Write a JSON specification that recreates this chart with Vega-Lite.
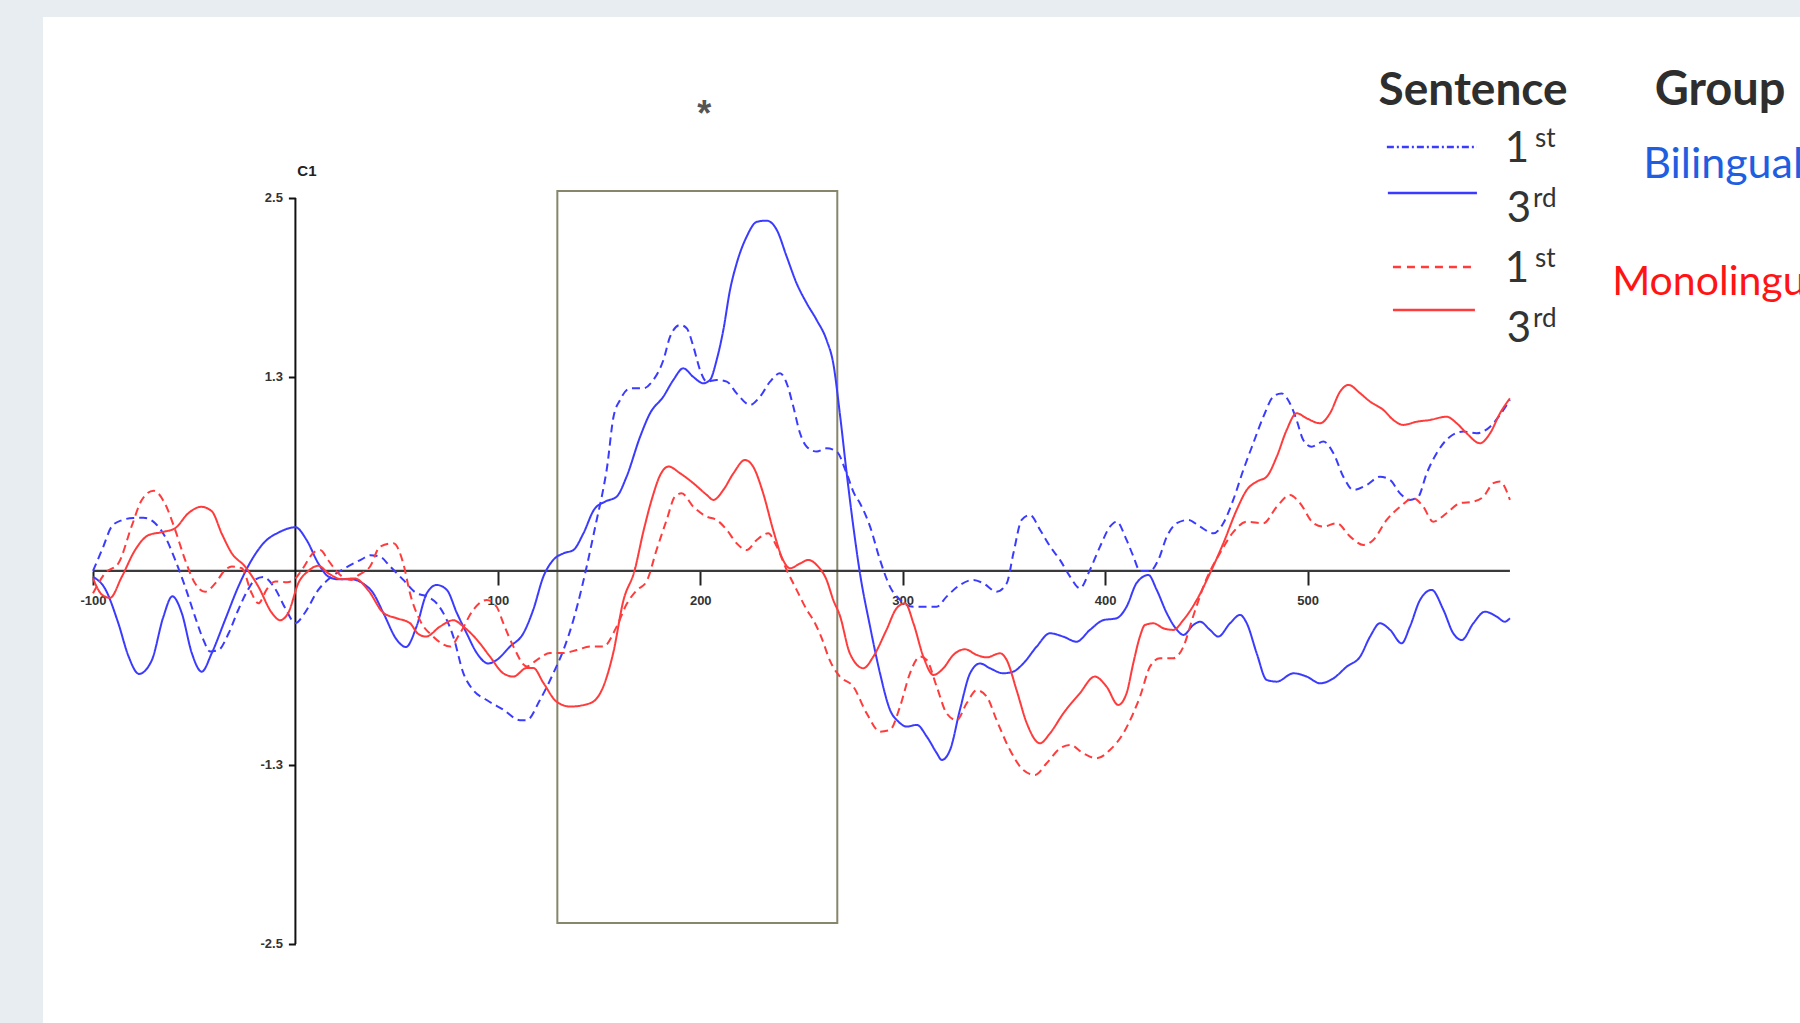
{
"$schema": "https://vega.github.io/schema/vega-lite/v6.json",
"width": 1757, "height": 1006,
"autosize": {"type": "none"},
"padding": {"left": 43, "top": 17, "right": 0, "bottom": 0},
"background": "#e7edf0",
"config": {"view": {"fill": "white", "stroke": null}, "font": "Liberation Sans"},
"datasets": {"erp": [
{"group":"Bilingual","sentence":"3rd","t":-100,"v":-0.04},{"group":"Bilingual","sentence":"3rd","t":-94,"v":-0.12},{"group":"Bilingual","sentence":"3rd","t":-87.5,"v":-0.35},{"group":"Bilingual","sentence":"3rd","t":-82.5,"v":-0.57},{"group":"Bilingual","sentence":"3rd","t":-77.3,"v":-0.69},{"group":"Bilingual","sentence":"3rd","t":-71,"v":-0.6},{"group":"Bilingual","sentence":"3rd","t":-65.3,"v":-0.31},{"group":"Bilingual","sentence":"3rd","t":-60.8,"v":-0.17},{"group":"Bilingual","sentence":"3rd","t":-56.2,"v":-0.28},{"group":"Bilingual","sentence":"3rd","t":-51.2,"v":-0.55},{"group":"Bilingual","sentence":"3rd","t":-46.3,"v":-0.675},{"group":"Bilingual","sentence":"3rd","t":-41.3,"v":-0.55},{"group":"Bilingual","sentence":"3rd","t":-34.8,"v":-0.33},{"group":"Bilingual","sentence":"3rd","t":-28.2,"v":-0.105},{"group":"Bilingual","sentence":"3rd","t":-21.6,"v":0.074},{"group":"Bilingual","sentence":"3rd","t":-15,"v":0.197},{"group":"Bilingual","sentence":"3rd","t":-8.4,"v":0.257},{"group":"Bilingual","sentence":"3rd","t":0,"v":0.293},{"group":"Bilingual","sentence":"3rd","t":5.5,"v":0.208},{"group":"Bilingual","sentence":"3rd","t":11.3,"v":0.051},{"group":"Bilingual","sentence":"3rd","t":16.3,"v":-0.038},{"group":"Bilingual","sentence":"3rd","t":21.2,"v":-0.056},{"group":"Bilingual","sentence":"3rd","t":27.8,"v":-0.056},{"group":"Bilingual","sentence":"3rd","t":34,"v":-0.09},{"group":"Bilingual","sentence":"3rd","t":38,"v":-0.14},{"group":"Bilingual","sentence":"3rd","t":43.4,"v":-0.28},{"group":"Bilingual","sentence":"3rd","t":50,"v":-0.46},{"group":"Bilingual","sentence":"3rd","t":54.6,"v":-0.51},{"group":"Bilingual","sentence":"3rd","t":59.9,"v":-0.37},{"group":"Bilingual","sentence":"3rd","t":64.9,"v":-0.15},{"group":"Bilingual","sentence":"3rd","t":69.8,"v":-0.094},{"group":"Bilingual","sentence":"3rd","t":74.8,"v":-0.127},{"group":"Bilingual","sentence":"3rd","t":79.7,"v":-0.28},{"group":"Bilingual","sentence":"3rd","t":84.6,"v":-0.418},{"group":"Bilingual","sentence":"3rd","t":89.6,"v":-0.55},{"group":"Bilingual","sentence":"3rd","t":95.3,"v":-0.62},{"group":"Bilingual","sentence":"3rd","t":99.4,"v":-0.597},{"group":"Bilingual","sentence":"3rd","t":106,"v":-0.507},{"group":"Bilingual","sentence":"3rd","t":112.6,"v":-0.418},{"group":"Bilingual","sentence":"3rd","t":117.5,"v":-0.26},{"group":"Bilingual","sentence":"3rd","t":122.5,"v":-0.038},{"group":"Bilingual","sentence":"3rd","t":127.4,"v":0.074},{"group":"Bilingual","sentence":"3rd","t":132.4,"v":0.118},{"group":"Bilingual","sentence":"3rd","t":137.3,"v":0.14},{"group":"Bilingual","sentence":"3rd","t":142.2,"v":0.25},{"group":"Bilingual","sentence":"3rd","t":147.5,"v":0.41},{"group":"Bilingual","sentence":"3rd","t":153,"v":0.465},{"group":"Bilingual","sentence":"3rd","t":158.7,"v":0.498},{"group":"Bilingual","sentence":"3rd","t":163.6,"v":0.632},{"group":"Bilingual","sentence":"3rd","t":170.3,"v":0.9},{"group":"Bilingual","sentence":"3rd","t":175.2,"v":1.057},{"group":"Bilingual","sentence":"3rd","t":181.8,"v":1.169},{"group":"Bilingual","sentence":"3rd","t":186.7,"v":1.28},{"group":"Bilingual","sentence":"3rd","t":191.6,"v":1.358},{"group":"Bilingual","sentence":"3rd","t":196.6,"v":1.3},{"group":"Bilingual","sentence":"3rd","t":201.5,"v":1.258},{"group":"Bilingual","sentence":"3rd","t":204.8,"v":1.28},{"group":"Bilingual","sentence":"3rd","t":208.1,"v":1.414},{"group":"Bilingual","sentence":"3rd","t":211.4,"v":1.615},{"group":"Bilingual","sentence":"3rd","t":214.7,"v":1.883},{"group":"Bilingual","sentence":"3rd","t":218,"v":2.062},{"group":"Bilingual","sentence":"3rd","t":222.9,"v":2.24},{"group":"Bilingual","sentence":"3rd","t":227.9,"v":2.34},{"group":"Bilingual","sentence":"3rd","t":232.8,"v":2.348},{"group":"Bilingual","sentence":"3rd","t":237.8,"v":2.286},{"group":"Bilingual","sentence":"3rd","t":242.7,"v":2.107},{"group":"Bilingual","sentence":"3rd","t":247.6,"v":1.928},{"group":"Bilingual","sentence":"3rd","t":252.6,"v":1.794},{"group":"Bilingual","sentence":"3rd","t":257.5,"v":1.682},{"group":"Bilingual","sentence":"3rd","t":262.4,"v":1.548},{"group":"Bilingual","sentence":"3rd","t":265.7,"v":1.392},{"group":"Bilingual","sentence":"3rd","t":269,"v":1.05},{"group":"Bilingual","sentence":"3rd","t":272.3,"v":0.66},{"group":"Bilingual","sentence":"3rd","t":275.6,"v":0.3},{"group":"Bilingual","sentence":"3rd","t":278.9,"v":-0.016},{"group":"Bilingual","sentence":"3rd","t":283.9,"v":-0.373},{"group":"Bilingual","sentence":"3rd","t":288.8,"v":-0.686},{"group":"Bilingual","sentence":"3rd","t":293.7,"v":-0.93},{"group":"Bilingual","sentence":"3rd","t":297.9,"v":-1.01},{"group":"Bilingual","sentence":"3rd","t":302,"v":-1.043},{"group":"Bilingual","sentence":"3rd","t":307,"v":-1.032},{"group":"Bilingual","sentence":"3rd","t":311.9,"v":-1.11},{"group":"Bilingual","sentence":"3rd","t":316.8,"v":-1.22},{"group":"Bilingual","sentence":"3rd","t":319.3,"v":-1.267},{"group":"Bilingual","sentence":"3rd","t":323.4,"v":-1.2},{"group":"Bilingual","sentence":"3rd","t":328.3,"v":-0.93},{"group":"Bilingual","sentence":"3rd","t":333.3,"v":-0.686},{"group":"Bilingual","sentence":"3rd","t":338.2,"v":-0.62},{"group":"Bilingual","sentence":"3rd","t":343.1,"v":-0.652},{"group":"Bilingual","sentence":"3rd","t":349.7,"v":-0.686},{"group":"Bilingual","sentence":"3rd","t":354.6,"v":-0.675},{"group":"Bilingual","sentence":"3rd","t":359.6,"v":-0.62},{"group":"Bilingual","sentence":"3rd","t":366.2,"v":-0.507},{"group":"Bilingual","sentence":"3rd","t":372.7,"v":-0.418},{"group":"Bilingual","sentence":"3rd","t":379.3,"v":-0.44},{"group":"Bilingual","sentence":"3rd","t":385.9,"v":-0.474},{"group":"Bilingual","sentence":"3rd","t":392.5,"v":-0.395},{"group":"Bilingual","sentence":"3rd","t":399.1,"v":-0.33},{"group":"Bilingual","sentence":"3rd","t":405.7,"v":-0.317},{"group":"Bilingual","sentence":"3rd","t":410.6,"v":-0.24},{"group":"Bilingual","sentence":"3rd","t":415.6,"v":-0.08},{"group":"Bilingual","sentence":"3rd","t":421.4,"v":-0.027},{"group":"Bilingual","sentence":"3rd","t":425.5,"v":-0.127},{"group":"Bilingual","sentence":"3rd","t":430.5,"v":-0.284},{"group":"Bilingual","sentence":"3rd","t":435.5,"v":-0.395},{"group":"Bilingual","sentence":"3rd","t":438.7,"v":-0.429},{"group":"Bilingual","sentence":"3rd","t":443.6,"v":-0.362},{"group":"Bilingual","sentence":"3rd","t":446.9,"v":-0.34},{"group":"Bilingual","sentence":"3rd","t":451.8,"v":-0.395},{"group":"Bilingual","sentence":"3rd","t":455.9,"v":-0.44},{"group":"Bilingual","sentence":"3rd","t":461.7,"v":-0.351},{"group":"Bilingual","sentence":"3rd","t":466.7,"v":-0.295},{"group":"Bilingual","sentence":"3rd","t":470,"v":-0.351},{"group":"Bilingual","sentence":"3rd","t":474.9,"v":-0.552},{"group":"Bilingual","sentence":"3rd","t":479.8,"v":-0.73},{"group":"Bilingual","sentence":"3rd","t":484.8,"v":-0.742},{"group":"Bilingual","sentence":"3rd","t":493,"v":-0.686},{"group":"Bilingual","sentence":"3rd","t":499.6,"v":-0.708},{"group":"Bilingual","sentence":"3rd","t":506.2,"v":-0.753},{"group":"Bilingual","sentence":"3rd","t":512.8,"v":-0.72},{"group":"Bilingual","sentence":"3rd","t":519.4,"v":-0.641},{"group":"Bilingual","sentence":"3rd","t":526,"v":-0.574},{"group":"Bilingual","sentence":"3rd","t":530.9,"v":-0.44},{"group":"Bilingual","sentence":"3rd","t":535.8,"v":-0.351},{"group":"Bilingual","sentence":"3rd","t":540.8,"v":-0.395},{"group":"Bilingual","sentence":"3rd","t":546.5,"v":-0.485},{"group":"Bilingual","sentence":"3rd","t":550.6,"v":-0.373},{"group":"Bilingual","sentence":"3rd","t":555.6,"v":-0.194},{"group":"Bilingual","sentence":"3rd","t":561.3,"v":-0.127},{"group":"Bilingual","sentence":"3rd","t":567.1,"v":-0.26},{"group":"Bilingual","sentence":"3rd","t":572,"v":-0.418},{"group":"Bilingual","sentence":"3rd","t":576.2,"v":-0.463},{"group":"Bilingual","sentence":"3rd","t":581.9,"v":-0.351},{"group":"Bilingual","sentence":"3rd","t":587.7,"v":-0.273},{"group":"Bilingual","sentence":"3rd","t":593.4,"v":-0.306},{"group":"Bilingual","sentence":"3rd","t":597.5,"v":-0.34},{"group":"Bilingual","sentence":"3rd","t":600,"v":-0.317},
{"group":"Bilingual","sentence":"1st","t":-100,"v":0},{"group":"Bilingual","sentence":"1st","t":-95,"v":0.16},{"group":"Bilingual","sentence":"1st","t":-90.8,"v":0.297},{"group":"Bilingual","sentence":"1st","t":-85.8,"v":0.34},{"group":"Bilingual","sentence":"1st","t":-80,"v":0.355},{"group":"Bilingual","sentence":"1st","t":-75.1,"v":0.357},{"group":"Bilingual","sentence":"1st","t":-69.3,"v":0.32},{"group":"Bilingual","sentence":"1st","t":-64.4,"v":0.23},{"group":"Bilingual","sentence":"1st","t":-59.4,"v":0.074},{"group":"Bilingual","sentence":"1st","t":-54.5,"v":-0.105},{"group":"Bilingual","sentence":"1st","t":-49.6,"v":-0.306},{"group":"Bilingual","sentence":"1st","t":-45.5,"v":-0.46},{"group":"Bilingual","sentence":"1st","t":-42.2,"v":-0.54},{"group":"Bilingual","sentence":"1st","t":-38,"v":-0.53},{"group":"Bilingual","sentence":"1st","t":-33,"v":-0.418},{"group":"Bilingual","sentence":"1st","t":-28.2,"v":-0.26},{"group":"Bilingual","sentence":"1st","t":-24,"v":-0.14},{"group":"Bilingual","sentence":"1st","t":-20,"v":-0.06},{"group":"Bilingual","sentence":"1st","t":-16,"v":-0.04},{"group":"Bilingual","sentence":"1st","t":-10,"v":-0.12},{"group":"Bilingual","sentence":"1st","t":-5,"v":-0.25},{"group":"Bilingual","sentence":"1st","t":0,"v":-0.35},{"group":"Bilingual","sentence":"1st","t":4.7,"v":-0.28},{"group":"Bilingual","sentence":"1st","t":11.3,"v":-0.127},{"group":"Bilingual","sentence":"1st","t":17.9,"v":-0.038},{"group":"Bilingual","sentence":"1st","t":26,"v":0.03},{"group":"Bilingual","sentence":"1st","t":32.7,"v":0.078},{"group":"Bilingual","sentence":"1st","t":37,"v":0.105},{"group":"Bilingual","sentence":"1st","t":41.8,"v":0.096},{"group":"Bilingual","sentence":"1st","t":46.8,"v":0.03},{"group":"Bilingual","sentence":"1st","t":53.3,"v":-0.06},{"group":"Bilingual","sentence":"1st","t":59.9,"v":-0.15},{"group":"Bilingual","sentence":"1st","t":64.9,"v":-0.17},{"group":"Bilingual","sentence":"1st","t":70,"v":-0.22},{"group":"Bilingual","sentence":"1st","t":74.5,"v":-0.32},{"group":"Bilingual","sentence":"1st","t":78,"v":-0.44},{"group":"Bilingual","sentence":"1st","t":83,"v":-0.686},{"group":"Bilingual","sentence":"1st","t":87.9,"v":-0.8},{"group":"Bilingual","sentence":"1st","t":94.5,"v":-0.865},{"group":"Bilingual","sentence":"1st","t":102.7,"v":-0.93},{"group":"Bilingual","sentence":"1st","t":110.9,"v":-1.0},{"group":"Bilingual","sentence":"1st","t":114.3,"v":-1.0},{"group":"Bilingual","sentence":"1st","t":120.8,"v":-0.865},{"group":"Bilingual","sentence":"1st","t":127.4,"v":-0.686},{"group":"Bilingual","sentence":"1st","t":132.4,"v":-0.53},{"group":"Bilingual","sentence":"1st","t":137.3,"v":-0.33},{"group":"Bilingual","sentence":"1st","t":139.5,"v":-0.22},{"group":"Bilingual","sentence":"1st","t":143.9,"v":0.03},{"group":"Bilingual","sentence":"1st","t":148.8,"v":0.34},{"group":"Bilingual","sentence":"1st","t":152.1,"v":0.55},{"group":"Bilingual","sentence":"1st","t":153.8,"v":0.68},{"group":"Bilingual","sentence":"1st","t":157.1,"v":1.03},{"group":"Bilingual","sentence":"1st","t":160.4,"v":1.146},{"group":"Bilingual","sentence":"1st","t":165.3,"v":1.224},{"group":"Bilingual","sentence":"1st","t":171.9,"v":1.224},{"group":"Bilingual","sentence":"1st","t":176.8,"v":1.28},{"group":"Bilingual","sentence":"1st","t":181.8,"v":1.414},{"group":"Bilingual","sentence":"1st","t":185.1,"v":1.57},{"group":"Bilingual","sentence":"1st","t":190,"v":1.649},{"group":"Bilingual","sentence":"1st","t":193.3,"v":1.627},{"group":"Bilingual","sentence":"1st","t":196.6,"v":1.504},{"group":"Bilingual","sentence":"1st","t":199.9,"v":1.347},{"group":"Bilingual","sentence":"1st","t":203.2,"v":1.269},{"group":"Bilingual","sentence":"1st","t":208.1,"v":1.28},{"group":"Bilingual","sentence":"1st","t":213.1,"v":1.269},{"group":"Bilingual","sentence":"1st","t":218,"v":1.19},{"group":"Bilingual","sentence":"1st","t":224.6,"v":1.113},{"group":"Bilingual","sentence":"1st","t":229.5,"v":1.168},{"group":"Bilingual","sentence":"1st","t":234.5,"v":1.269},{"group":"Bilingual","sentence":"1st","t":239.4,"v":1.325},{"group":"Bilingual","sentence":"1st","t":242.7,"v":1.258},{"group":"Bilingual","sentence":"1st","t":246,"v":1.1},{"group":"Bilingual","sentence":"1st","t":249.3,"v":0.923},{"group":"Bilingual","sentence":"1st","t":252.6,"v":0.833},{"group":"Bilingual","sentence":"1st","t":257.5,"v":0.8},{"group":"Bilingual","sentence":"1st","t":262.4,"v":0.822},{"group":"Bilingual","sentence":"1st","t":267.4,"v":0.8},{"group":"Bilingual","sentence":"1st","t":272.3,"v":0.655},{"group":"Bilingual","sentence":"1st","t":276,"v":0.52},{"group":"Bilingual","sentence":"1st","t":278.9,"v":0.454},{"group":"Bilingual","sentence":"1st","t":283.9,"v":0.297},{"group":"Bilingual","sentence":"1st","t":288.8,"v":0.074},{"group":"Bilingual","sentence":"1st","t":293.7,"v":-0.105},{"group":"Bilingual","sentence":"1st","t":298.7,"v":-0.194},{"group":"Bilingual","sentence":"1st","t":305.3,"v":-0.24},{"group":"Bilingual","sentence":"1st","t":311.9,"v":-0.24},{"group":"Bilingual","sentence":"1st","t":316.8,"v":-0.24},{"group":"Bilingual","sentence":"1st","t":321.7,"v":-0.172},{"group":"Bilingual","sentence":"1st","t":328.3,"v":-0.094},{"group":"Bilingual","sentence":"1st","t":334.9,"v":-0.06},{"group":"Bilingual","sentence":"1st","t":339.9,"v":-0.083},{"group":"Bilingual","sentence":"1st","t":346.4,"v":-0.139},{"group":"Bilingual","sentence":"1st","t":351.4,"v":-0.083},{"group":"Bilingual","sentence":"1st","t":354.7,"v":0.118},{"group":"Bilingual","sentence":"1st","t":358.8,"v":0.342},{"group":"Bilingual","sentence":"1st","t":362.9,"v":0.375},{"group":"Bilingual","sentence":"1st","t":367.9,"v":0.275},{"group":"Bilingual","sentence":"1st","t":372.9,"v":0.163},{"group":"Bilingual","sentence":"1st","t":377.7,"v":0.074},{"group":"Bilingual","sentence":"1st","t":382.7,"v":-0.038},{"group":"Bilingual","sentence":"1st","t":387.6,"v":-0.116},{"group":"Bilingual","sentence":"1st","t":392.5,"v":0.007},{"group":"Bilingual","sentence":"1st","t":397.5,"v":0.163},{"group":"Bilingual","sentence":"1st","t":402.4,"v":0.297},{"group":"Bilingual","sentence":"1st","t":405.7,"v":0.33},{"group":"Bilingual","sentence":"1st","t":410.6,"v":0.208},{"group":"Bilingual","sentence":"1st","t":413.9,"v":0.1},{"group":"Bilingual","sentence":"1st","t":417.3,"v":0.0},{"group":"Bilingual","sentence":"1st","t":422.2,"v":0.0},{"group":"Bilingual","sentence":"1st","t":426.3,"v":0.074},{"group":"Bilingual","sentence":"1st","t":430.5,"v":0.23},{"group":"Bilingual","sentence":"1st","t":435.4,"v":0.32},{"group":"Bilingual","sentence":"1st","t":441.1,"v":0.342},{"group":"Bilingual","sentence":"1st","t":446.9,"v":0.297},{"group":"Bilingual","sentence":"1st","t":453.5,"v":0.252},{"group":"Bilingual","sentence":"1st","t":458.4,"v":0.32},{"group":"Bilingual","sentence":"1st","t":463.3,"v":0.476},{"group":"Bilingual","sentence":"1st","t":468.3,"v":0.677},{"group":"Bilingual","sentence":"1st","t":473.2,"v":0.856},{"group":"Bilingual","sentence":"1st","t":478.2,"v":1.034},{"group":"Bilingual","sentence":"1st","t":483.1,"v":1.168},{"group":"Bilingual","sentence":"1st","t":487.2,"v":1.19},{"group":"Bilingual","sentence":"1st","t":491.3,"v":1.124},{"group":"Bilingual","sentence":"1st","t":494.6,"v":1.012},{"group":"Bilingual","sentence":"1st","t":497.9,"v":0.878},{"group":"Bilingual","sentence":"1st","t":502,"v":0.833},{"group":"Bilingual","sentence":"1st","t":507.8,"v":0.867},{"group":"Bilingual","sentence":"1st","t":512.8,"v":0.789},{"group":"Bilingual","sentence":"1st","t":517.7,"v":0.632},{"group":"Bilingual","sentence":"1st","t":522.6,"v":0.543},{"group":"Bilingual","sentence":"1st","t":529.2,"v":0.576},{"group":"Bilingual","sentence":"1st","t":535.8,"v":0.632},{"group":"Bilingual","sentence":"1st","t":540.8,"v":0.61},{"group":"Bilingual","sentence":"1st","t":545.7,"v":0.52},{"group":"Bilingual","sentence":"1st","t":550.6,"v":0.476},{"group":"Bilingual","sentence":"1st","t":554.7,"v":0.498},{"group":"Bilingual","sentence":"1st","t":558.9,"v":0.655},{"group":"Bilingual","sentence":"1st","t":563.8,"v":0.789},{"group":"Bilingual","sentence":"1st","t":570.4,"v":0.9},{"group":"Bilingual","sentence":"1st","t":577,"v":0.934},{"group":"Bilingual","sentence":"1st","t":583.6,"v":0.923},{"group":"Bilingual","sentence":"1st","t":590.2,"v":0.967},{"group":"Bilingual","sentence":"1st","t":595.1,"v":1.046},{"group":"Bilingual","sentence":"1st","t":600,"v":1.146},
{"group":"Monolingual","sentence":"3rd","t":-100,"v":-0.05},{"group":"Monolingual","sentence":"3rd","t":-95.5,"v":-0.16},{"group":"Monolingual","sentence":"3rd","t":-91.6,"v":-0.18},{"group":"Monolingual","sentence":"3rd","t":-85.8,"v":-0.04},{"group":"Monolingual","sentence":"3rd","t":-79.2,"v":0.14},{"group":"Monolingual","sentence":"3rd","t":-72.6,"v":0.24},{"group":"Monolingual","sentence":"3rd","t":-66,"v":0.26},{"group":"Monolingual","sentence":"3rd","t":-59.5,"v":0.286},{"group":"Monolingual","sentence":"3rd","t":-52.9,"v":0.387},{"group":"Monolingual","sentence":"3rd","t":-46.5,"v":0.43},{"group":"Monolingual","sentence":"3rd","t":-41.3,"v":0.4},{"group":"Monolingual","sentence":"3rd","t":-36.4,"v":0.25},{"group":"Monolingual","sentence":"3rd","t":-31.4,"v":0.118},{"group":"Monolingual","sentence":"3rd","t":-24.9,"v":0.03},{"group":"Monolingual","sentence":"3rd","t":-18.3,"v":-0.105},{"group":"Monolingual","sentence":"3rd","t":-11.7,"v":-0.28},{"group":"Monolingual","sentence":"3rd","t":-7.6,"v":-0.33},{"group":"Monolingual","sentence":"3rd","t":-3.5,"v":-0.28},{"group":"Monolingual","sentence":"3rd","t":1.5,"v":-0.08},{"group":"Monolingual","sentence":"3rd","t":6.4,"v":0.0},{"group":"Monolingual","sentence":"3rd","t":11.3,"v":0.035},{"group":"Monolingual","sentence":"3rd","t":16.3,"v":-0.016},{"group":"Monolingual","sentence":"3rd","t":22.8,"v":-0.055},{"group":"Monolingual","sentence":"3rd","t":29.4,"v":-0.05},{"group":"Monolingual","sentence":"3rd","t":36,"v":-0.13},{"group":"Monolingual","sentence":"3rd","t":43.4,"v":-0.28},{"group":"Monolingual","sentence":"3rd","t":50,"v":-0.317},{"group":"Monolingual","sentence":"3rd","t":56.6,"v":-0.35},{"group":"Monolingual","sentence":"3rd","t":60.5,"v":-0.42},{"group":"Monolingual","sentence":"3rd","t":64.5,"v":-0.44},{"group":"Monolingual","sentence":"3rd","t":71.4,"v":-0.373},{"group":"Monolingual","sentence":"3rd","t":78,"v":-0.33},{"group":"Monolingual","sentence":"3rd","t":83,"v":-0.373},{"group":"Monolingual","sentence":"3rd","t":89.6,"v":-0.46},{"group":"Monolingual","sentence":"3rd","t":96.1,"v":-0.574},{"group":"Monolingual","sentence":"3rd","t":102.7,"v":-0.686},{"group":"Monolingual","sentence":"3rd","t":107.7,"v":-0.708},{"group":"Monolingual","sentence":"3rd","t":114.3,"v":-0.65},{"group":"Monolingual","sentence":"3rd","t":117.5,"v":-0.65},{"group":"Monolingual","sentence":"3rd","t":122.5,"v":-0.75},{"group":"Monolingual","sentence":"3rd","t":129,"v":-0.876},{"group":"Monolingual","sentence":"3rd","t":135.7,"v":-0.909},{"group":"Monolingual","sentence":"3rd","t":145.5,"v":-0.887},{"group":"Monolingual","sentence":"3rd","t":152.1,"v":-0.775},{"group":"Monolingual","sentence":"3rd","t":157,"v":-0.55},{"group":"Monolingual","sentence":"3rd","t":162,"v":-0.2},{"group":"Monolingual","sentence":"3rd","t":167.5,"v":0.0},{"group":"Monolingual","sentence":"3rd","t":172,"v":0.27},{"group":"Monolingual","sentence":"3rd","t":176.5,"v":0.5},{"group":"Monolingual","sentence":"3rd","t":180.1,"v":0.64},{"group":"Monolingual","sentence":"3rd","t":184.3,"v":0.7},{"group":"Monolingual","sentence":"3rd","t":190,"v":0.655},{"group":"Monolingual","sentence":"3rd","t":196.6,"v":0.588},{"group":"Monolingual","sentence":"3rd","t":203.2,"v":0.51},{"group":"Monolingual","sentence":"3rd","t":206.5,"v":0.476},{"group":"Monolingual","sentence":"3rd","t":211.4,"v":0.543},{"group":"Monolingual","sentence":"3rd","t":216.4,"v":0.655},{"group":"Monolingual","sentence":"3rd","t":222.1,"v":0.744},{"group":"Monolingual","sentence":"3rd","t":226.1,"v":0.7},{"group":"Monolingual","sentence":"3rd","t":231.1,"v":0.52},{"group":"Monolingual","sentence":"3rd","t":236,"v":0.275},{"group":"Monolingual","sentence":"3rd","t":240.9,"v":0.074},{"group":"Monolingual","sentence":"3rd","t":244.3,"v":0.018},{"group":"Monolingual","sentence":"3rd","t":249.3,"v":0.05},{"group":"Monolingual","sentence":"3rd","t":253.4,"v":0.074},{"group":"Monolingual","sentence":"3rd","t":257.5,"v":0.04},{"group":"Monolingual","sentence":"3rd","t":262.4,"v":-0.06},{"group":"Monolingual","sentence":"3rd","t":265.7,"v":-0.194},{"group":"Monolingual","sentence":"3rd","t":269,"v":-0.3},{"group":"Monolingual","sentence":"3rd","t":273.9,"v":-0.552},{"group":"Monolingual","sentence":"3rd","t":280.6,"v":-0.652},{"group":"Monolingual","sentence":"3rd","t":285.5,"v":-0.574},{"group":"Monolingual","sentence":"3rd","t":292,"v":-0.395},{"group":"Monolingual","sentence":"3rd","t":297,"v":-0.25},{"group":"Monolingual","sentence":"3rd","t":301.2,"v":-0.217},{"group":"Monolingual","sentence":"3rd","t":305.3,"v":-0.35},{"group":"Monolingual","sentence":"3rd","t":310.2,"v":-0.574},{"group":"Monolingual","sentence":"3rd","t":315.2,"v":-0.697},{"group":"Monolingual","sentence":"3rd","t":320.1,"v":-0.652},{"group":"Monolingual","sentence":"3rd","t":325,"v":-0.563},{"group":"Monolingual","sentence":"3rd","t":330.8,"v":-0.525},{"group":"Monolingual","sentence":"3rd","t":336.6,"v":-0.563},{"group":"Monolingual","sentence":"3rd","t":341.5,"v":-0.579},{"group":"Monolingual","sentence":"3rd","t":348.1,"v":-0.552},{"group":"Monolingual","sentence":"3rd","t":351.4,"v":-0.597},{"group":"Monolingual","sentence":"3rd","t":356.3,"v":-0.8},{"group":"Monolingual","sentence":"3rd","t":361.3,"v":-1.02},{"group":"Monolingual","sentence":"3rd","t":367.8,"v":-1.155},{"group":"Monolingual","sentence":"3rd","t":372.8,"v":-1.088},{"group":"Monolingual","sentence":"3rd","t":379.4,"v":-0.954},{"group":"Monolingual","sentence":"3rd","t":387.5,"v":-0.82},{"group":"Monolingual","sentence":"3rd","t":394.9,"v":-0.708},{"group":"Monolingual","sentence":"3rd","t":400.7,"v":-0.775},{"group":"Monolingual","sentence":"3rd","t":406.5,"v":-0.898},{"group":"Monolingual","sentence":"3rd","t":410.6,"v":-0.82},{"group":"Monolingual","sentence":"3rd","t":413.9,"v":-0.62},{"group":"Monolingual","sentence":"3rd","t":417.2,"v":-0.44},{"group":"Monolingual","sentence":"3rd","t":419.7,"v":-0.362},{"group":"Monolingual","sentence":"3rd","t":423.9,"v":-0.351},{"group":"Monolingual","sentence":"3rd","t":428.8,"v":-0.384},{"group":"Monolingual","sentence":"3rd","t":433.7,"v":-0.395},{"group":"Monolingual","sentence":"3rd","t":438.7,"v":-0.328},{"group":"Monolingual","sentence":"3rd","t":445.3,"v":-0.194},{"group":"Monolingual","sentence":"3rd","t":451.8,"v":-0.016},{"group":"Monolingual","sentence":"3rd","t":458.4,"v":0.185},{"group":"Monolingual","sentence":"3rd","t":465,"v":0.409},{"group":"Monolingual","sentence":"3rd","t":470,"v":0.543},{"group":"Monolingual","sentence":"3rd","t":474.9,"v":0.599},{"group":"Monolingual","sentence":"3rd","t":479.8,"v":0.632},{"group":"Monolingual","sentence":"3rd","t":484.8,"v":0.766},{"group":"Monolingual","sentence":"3rd","t":489.7,"v":0.945},{"group":"Monolingual","sentence":"3rd","t":494.6,"v":1.057},{"group":"Monolingual","sentence":"3rd","t":499.6,"v":1.023},{"group":"Monolingual","sentence":"3rd","t":506.2,"v":0.99},{"group":"Monolingual","sentence":"3rd","t":511.1,"v":1.057},{"group":"Monolingual","sentence":"3rd","t":516.1,"v":1.202},{"group":"Monolingual","sentence":"3rd","t":520.2,"v":1.247},{"group":"Monolingual","sentence":"3rd","t":526,"v":1.191},{"group":"Monolingual","sentence":"3rd","t":530.9,"v":1.135},{"group":"Monolingual","sentence":"3rd","t":537.5,"v":1.079},{"group":"Monolingual","sentence":"3rd","t":542.4,"v":1.012},{"group":"Monolingual","sentence":"3rd","t":547.3,"v":0.979},{"group":"Monolingual","sentence":"3rd","t":553.9,"v":1.0},{"group":"Monolingual","sentence":"3rd","t":560.5,"v":1.012},{"group":"Monolingual","sentence":"3rd","t":568.7,"v":1.034},{"group":"Monolingual","sentence":"3rd","t":573.7,"v":0.99},{"group":"Monolingual","sentence":"3rd","t":578.6,"v":0.923},{"group":"Monolingual","sentence":"3rd","t":585.2,"v":0.856},{"group":"Monolingual","sentence":"3rd","t":590.2,"v":0.923},{"group":"Monolingual","sentence":"3rd","t":595.1,"v":1.057},{"group":"Monolingual","sentence":"3rd","t":600,"v":1.157},
{"group":"Monolingual","sentence":"1st","t":-100,"v":-0.15},{"group":"Monolingual","sentence":"1st","t":-94.1,"v":-0.016},{"group":"Monolingual","sentence":"1st","t":-87.5,"v":0.05},{"group":"Monolingual","sentence":"1st","t":-80.9,"v":0.3},{"group":"Monolingual","sentence":"1st","t":-75.9,"v":0.476},{"group":"Monolingual","sentence":"1st","t":-70.1,"v":0.538},{"group":"Monolingual","sentence":"1st","t":-64.4,"v":0.45},{"group":"Monolingual","sentence":"1st","t":-59.4,"v":0.275},{"group":"Monolingual","sentence":"1st","t":-54.5,"v":0.074},{"group":"Monolingual","sentence":"1st","t":-49.6,"v":-0.083},{"group":"Monolingual","sentence":"1st","t":-44.6,"v":-0.139},{"group":"Monolingual","sentence":"1st","t":-39.6,"v":-0.083},{"group":"Monolingual","sentence":"1st","t":-34.7,"v":0.007},{"group":"Monolingual","sentence":"1st","t":-31.4,"v":0.03},{"group":"Monolingual","sentence":"1st","t":-26.5,"v":0.018},{"group":"Monolingual","sentence":"1st","t":-21.6,"v":-0.15},{"group":"Monolingual","sentence":"1st","t":-18.3,"v":-0.217},{"group":"Monolingual","sentence":"1st","t":-14,"v":-0.12},{"group":"Monolingual","sentence":"1st","t":-10,"v":-0.07},{"group":"Monolingual","sentence":"1st","t":-4,"v":-0.075},{"group":"Monolingual","sentence":"1st","t":0,"v":-0.05},{"group":"Monolingual","sentence":"1st","t":3.2,"v":0.007},{"group":"Monolingual","sentence":"1st","t":9.6,"v":0.13},{"group":"Monolingual","sentence":"1st","t":12.2,"v":0.14},{"group":"Monolingual","sentence":"1st","t":16.3,"v":0.07},{"group":"Monolingual","sentence":"1st","t":21.2,"v":-0.016},{"group":"Monolingual","sentence":"1st","t":27.8,"v":-0.06},{"group":"Monolingual","sentence":"1st","t":31,"v":-0.03},{"group":"Monolingual","sentence":"1st","t":36.9,"v":0.03},{"group":"Monolingual","sentence":"1st","t":41.8,"v":0.163},{"group":"Monolingual","sentence":"1st","t":48.4,"v":0.185},{"group":"Monolingual","sentence":"1st","t":53.3,"v":0.05},{"group":"Monolingual","sentence":"1st","t":56.6,"v":-0.15},{"group":"Monolingual","sentence":"1st","t":61.5,"v":-0.33},{"group":"Monolingual","sentence":"1st","t":68.1,"v":-0.44},{"group":"Monolingual","sentence":"1st","t":76.4,"v":-0.507},{"group":"Monolingual","sentence":"1st","t":81.3,"v":-0.418},{"group":"Monolingual","sentence":"1st","t":87.9,"v":-0.26},{"group":"Monolingual","sentence":"1st","t":94.5,"v":-0.194},{"group":"Monolingual","sentence":"1st","t":99.4,"v":-0.24},{"group":"Monolingual","sentence":"1st","t":102.7,"v":-0.35},{"group":"Monolingual","sentence":"1st","t":107.7,"v":-0.507},{"group":"Monolingual","sentence":"1st","t":114.3,"v":-0.64},{"group":"Monolingual","sentence":"1st","t":119.2,"v":-0.597},{"group":"Monolingual","sentence":"1st","t":125.8,"v":-0.55},{"group":"Monolingual","sentence":"1st","t":132.4,"v":-0.55},{"group":"Monolingual","sentence":"1st","t":139,"v":-0.53},{"group":"Monolingual","sentence":"1st","t":145.5,"v":-0.507},{"group":"Monolingual","sentence":"1st","t":152.1,"v":-0.507},{"group":"Monolingual","sentence":"1st","t":158.7,"v":-0.373},{"group":"Monolingual","sentence":"1st","t":163.7,"v":-0.22},{"group":"Monolingual","sentence":"1st","t":168.6,"v":-0.13},{"group":"Monolingual","sentence":"1st","t":173.5,"v":-0.07},{"group":"Monolingual","sentence":"1st","t":178.4,"v":0.14},{"group":"Monolingual","sentence":"1st","t":183.4,"v":0.342},{"group":"Monolingual","sentence":"1st","t":187.5,"v":0.498},{"group":"Monolingual","sentence":"1st","t":190.8,"v":0.52},{"group":"Monolingual","sentence":"1st","t":196.6,"v":0.43},{"group":"Monolingual","sentence":"1st","t":203.2,"v":0.364},{"group":"Monolingual","sentence":"1st","t":208.1,"v":0.342},{"group":"Monolingual","sentence":"1st","t":213.1,"v":0.275},{"group":"Monolingual","sentence":"1st","t":218,"v":0.185},{"group":"Monolingual","sentence":"1st","t":222.9,"v":0.14},{"group":"Monolingual","sentence":"1st","t":227.9,"v":0.208},{"group":"Monolingual","sentence":"1st","t":233.6,"v":0.252},{"group":"Monolingual","sentence":"1st","t":237.8,"v":0.163},{"group":"Monolingual","sentence":"1st","t":242.7,"v":0.007},{"group":"Monolingual","sentence":"1st","t":247.6,"v":-0.127},{"group":"Monolingual","sentence":"1st","t":252.6,"v":-0.26},{"group":"Monolingual","sentence":"1st","t":255.9,"v":-0.33},{"group":"Monolingual","sentence":"1st","t":260,"v":-0.45},{"group":"Monolingual","sentence":"1st","t":264,"v":-0.6},{"group":"Monolingual","sentence":"1st","t":269,"v":-0.708},{"group":"Monolingual","sentence":"1st","t":275.6,"v":-0.775},{"group":"Monolingual","sentence":"1st","t":282.2,"v":-0.954},{"group":"Monolingual","sentence":"1st","t":288.8,"v":-1.077},{"group":"Monolingual","sentence":"1st","t":293.7,"v":-1.066},{"group":"Monolingual","sentence":"1st","t":298.7,"v":-0.909},{"group":"Monolingual","sentence":"1st","t":303.6,"v":-0.686},{"group":"Monolingual","sentence":"1st","t":308.6,"v":-0.574},{"group":"Monolingual","sentence":"1st","t":311.9,"v":-0.597},{"group":"Monolingual","sentence":"1st","t":316.8,"v":-0.775},{"group":"Monolingual","sentence":"1st","t":321.7,"v":-0.954},{"group":"Monolingual","sentence":"1st","t":326.7,"v":-1.0},{"group":"Monolingual","sentence":"1st","t":331.6,"v":-0.887},{"group":"Monolingual","sentence":"1st","t":336.6,"v":-0.8},{"group":"Monolingual","sentence":"1st","t":341.5,"v":-0.842},{"group":"Monolingual","sentence":"1st","t":346.4,"v":-1.0},{"group":"Monolingual","sentence":"1st","t":353,"v":-1.2},{"group":"Monolingual","sentence":"1st","t":359.6,"v":-1.334},{"group":"Monolingual","sentence":"1st","t":365.3,"v":-1.367},{"group":"Monolingual","sentence":"1st","t":371.1,"v":-1.289},{"group":"Monolingual","sentence":"1st","t":377.7,"v":-1.19},{"group":"Monolingual","sentence":"1st","t":382.7,"v":-1.166},{"group":"Monolingual","sentence":"1st","t":389.2,"v":-1.222},{"group":"Monolingual","sentence":"1st","t":395.8,"v":-1.256},{"group":"Monolingual","sentence":"1st","t":402.4,"v":-1.2},{"group":"Monolingual","sentence":"1st","t":409,"v":-1.088},{"group":"Monolingual","sentence":"1st","t":413.9,"v":-0.954},{"group":"Monolingual","sentence":"1st","t":417.3,"v":-0.84},{"group":"Monolingual","sentence":"1st","t":422.2,"v":-0.641},{"group":"Monolingual","sentence":"1st","t":427.1,"v":-0.585},{"group":"Monolingual","sentence":"1st","t":433.7,"v":-0.585},{"group":"Monolingual","sentence":"1st","t":438.7,"v":-0.507},{"group":"Monolingual","sentence":"1st","t":443.6,"v":-0.3},{"group":"Monolingual","sentence":"1st","t":450.2,"v":-0.05},{"group":"Monolingual","sentence":"1st","t":456.8,"v":0.12},{"group":"Monolingual","sentence":"1st","t":463.3,"v":0.26},{"group":"Monolingual","sentence":"1st","t":470,"v":0.33},{"group":"Monolingual","sentence":"1st","t":478.2,"v":0.32},{"group":"Monolingual","sentence":"1st","t":484.8,"v":0.43},{"group":"Monolingual","sentence":"1st","t":491.3,"v":0.509},{"group":"Monolingual","sentence":"1st","t":496.3,"v":0.454},{"group":"Monolingual","sentence":"1st","t":502.9,"v":0.32},{"group":"Monolingual","sentence":"1st","t":507.8,"v":0.297},{"group":"Monolingual","sentence":"1st","t":514.4,"v":0.32},{"group":"Monolingual","sentence":"1st","t":521.1,"v":0.23},{"group":"Monolingual","sentence":"1st","t":527.6,"v":0.174},{"group":"Monolingual","sentence":"1st","t":532.5,"v":0.208},{"group":"Monolingual","sentence":"1st","t":539.1,"v":0.342},{"group":"Monolingual","sentence":"1st","t":545.7,"v":0.43},{"group":"Monolingual","sentence":"1st","t":552.3,"v":0.487},{"group":"Monolingual","sentence":"1st","t":557.2,"v":0.43},{"group":"Monolingual","sentence":"1st","t":562.1,"v":0.33},{"group":"Monolingual","sentence":"1st","t":568.7,"v":0.387},{"group":"Monolingual","sentence":"1st","t":575.3,"v":0.454},{"group":"Monolingual","sentence":"1st","t":581.9,"v":0.465},{"group":"Monolingual","sentence":"1st","t":586.9,"v":0.498},{"group":"Monolingual","sentence":"1st","t":591.8,"v":0.588},{"group":"Monolingual","sentence":"1st","t":595.1,"v":0.599},{"group":"Monolingual","sentence":"1st","t":600,"v":0.476}
]},
"layer": [
{"data": {"values": [{}]}, "mark": {"type": "rect", "filled": false, "stroke": "#86866c", "strokeWidth": 2},
 "encoding": {"x": {"datum": 129.4, "type": "quantitative"}, "x2": {"datum": 267.7}, "y": {"datum": 2.547, "type": "quantitative"}, "y2": {"datum": -2.359}}},
{"data": {"values": [{}]}, "mark": {"type": "rule", "color": "#3a3a3a", "strokeWidth": 2.2},
 "encoding": {"x": {"datum": -100, "type": "quantitative"}, "x2": {"datum": 600}, "y": {"datum": 0, "type": "quantitative"}}},
{"data": {"values": [{}]}, "mark": {"type": "rule", "color": "#111111", "strokeWidth": 2},
 "encoding": {"x": {"datum": 0, "type": "quantitative"}, "y": {"datum": 2.5, "type": "quantitative"}, "y2": {"datum": -2.5}}},
{"data": {"name": "erp"}, "mark": {"type": "line", "interpolate": "monotone", "strokeWidth": 2},
 "encoding": {
  "x": {"field": "t", "type": "quantitative", "scale": {"domain": [-124.7, 743.3], "nice": false, "zero": false},
        "axis": {"orient": "bottom", "offset": -452, "values": [-100, 100, 200, 300, 400, 500], "domain": false, "grid": false, "tickSize": 14, "tickWidth": 2, "tickColor": "#222222", "labelPadding": 9, "labelFont": "Liberation Sans", "labelFontSize": 13, "labelFontWeight": "bold", "labelColor": "#333333", "labelExpr": "'' + datum.value", "labelFlush": false, "labelOverlap": false, "title": null}},
  "y": {"field": "v", "type": "quantitative", "scale": {"domain": [-3.03, 3.713], "nice": false, "zero": false},
        "axis": {"orient": "left", "offset": -252.4, "values": [2.5, 1.3, -1.3, -2.5], "domain": false, "grid": false, "tickSize": 7, "tickWidth": 2, "tickColor": "#111111", "labelPadding": 6, "labelFont": "Liberation Sans", "labelFontSize": 13, "labelFontWeight": "bold", "labelColor": "#333333", "labelExpr": "'' + datum.value", "labelOverlap": false, "labelFlush": false,
                 "title": "C1", "titleAngle": 0, "titleX": 11, "titleY": 153, "titleAlign": "center", "titleBaseline": "middle", "titleFont": "Liberation Sans", "titleFontSize": 15, "titleFontWeight": "bold", "titleColor": "#222222"}},
  "color": {"field": "group", "type": "nominal", "scale": {"domain": ["Bilingual", "Monolingual"], "range": ["#3b3bff", "#ff3b3b"]}, "legend": null},
  "strokeDash": {"field": "sentence", "type": "nominal", "scale": {"domain": ["1st", "3rd"], "range": [[8, 5], [1, 0]]}, "legend": null}
 }},
{"data": {"values": [{}]}, "mark": {"type": "text", "text": "*", "font": "Liberation Sans", "fontSize": 36, "fontWeight": "bold", "color": "#555555", "align": "center", "baseline": "alphabetic"},
 "encoding": {"x": {"datum": 202, "type": "quantitative"}, "y": {"datum": 2.98, "type": "quantitative"}}},
{"data": {"values": [{}]}, "mark": {"type": "text", "text": "Sentence", "font": "Lato", "fontSize": 46, "fontWeight": "bold", "color": "#2e2e2e", "align": "center", "baseline": "alphabetic"},
 "encoding": {"x": {"datum": 581.8, "type": "quantitative"}, "y": {"datum": 3.124, "type": "quantitative"}}},
{"data": {"values": [{}]}, "mark": {"type": "text", "text": "Group", "font": "Lato", "fontSize": 47, "fontWeight": "bold", "color": "#2e2e2e", "align": "center", "baseline": "alphabetic"},
 "encoding": {"x": {"datum": 703.8, "type": "quantitative"}, "y": {"datum": 3.124, "type": "quantitative"}}},
{"data": {"values": [{}]}, "mark": {"type": "rule", "color": "#3b3bff", "strokeWidth": 2.5, "strokeDash": [7, 3, 2, 3]},
 "encoding": {"x": {"datum": 539.2, "type": "quantitative"}, "x2": {"datum": 583.7}, "y": {"datum": 2.842, "type": "quantitative"}}},
{"data": {"values": [{}]}, "mark": {"type": "rule", "color": "#3b3bff", "strokeWidth": 2.5},
 "encoding": {"x": {"datum": 539.7, "type": "quantitative"}, "x2": {"datum": 583.7}, "y": {"datum": 2.534, "type": "quantitative"}}},
{"data": {"values": [{}]}, "mark": {"type": "rule", "color": "#ff3b3b", "strokeWidth": 2.5, "strokeDash": [8, 6]},
 "encoding": {"x": {"datum": 542.2, "type": "quantitative"}, "x2": {"datum": 581.7}, "y": {"datum": 2.038, "type": "quantitative"}}},
{"data": {"values": [{}]}, "mark": {"type": "rule", "color": "#ff3b3b", "strokeWidth": 2.5},
 "encoding": {"x": {"datum": 542.2, "type": "quantitative"}, "x2": {"datum": 582.7}, "y": {"datum": 1.749, "type": "quantitative"}}},
{"data": {"values": [{}]}, "mark": {"type": "text", "text": "1", "font": "Lato", "fontSize": 42, "color": "#333333", "align": "center", "baseline": "alphabetic"},
 "encoding": {"x": {"datum": 603.5, "type": "quantitative"}, "y": {"datum": 2.741, "type": "quantitative"}}},
{"data": {"values": [{}]}, "mark": {"type": "text", "text": "st", "font": "Lato", "fontSize": 26, "color": "#333333", "align": "left", "baseline": "alphabetic"},
 "encoding": {"x": {"datum": 612.4, "type": "quantitative"}, "y": {"datum": 2.842, "type": "quantitative"}}},
{"data": {"values": [{}]}, "mark": {"type": "text", "text": "3", "font": "Lato", "fontSize": 42, "color": "#333333", "align": "center", "baseline": "alphabetic"},
 "encoding": {"x": {"datum": 604.5, "type": "quantitative"}, "y": {"datum": 2.339, "type": "quantitative"}}},
{"data": {"values": [{}]}, "mark": {"type": "text", "text": "rd", "font": "Lato", "fontSize": 26, "color": "#333333", "align": "left", "baseline": "alphabetic"},
 "encoding": {"x": {"datum": 611.4, "type": "quantitative"}, "y": {"datum": 2.44, "type": "quantitative"}}},
{"data": {"values": [{}]}, "mark": {"type": "text", "text": "1", "font": "Lato", "fontSize": 42, "color": "#333333", "align": "center", "baseline": "alphabetic"},
 "encoding": {"x": {"datum": 603.5, "type": "quantitative"}, "y": {"datum": 1.937, "type": "quantitative"}}},
{"data": {"values": [{}]}, "mark": {"type": "text", "text": "st", "font": "Lato", "fontSize": 26, "color": "#333333", "align": "left", "baseline": "alphabetic"},
 "encoding": {"x": {"datum": 612.4, "type": "quantitative"}, "y": {"datum": 2.038, "type": "quantitative"}}},
{"data": {"values": [{}]}, "mark": {"type": "text", "text": "3", "font": "Lato", "fontSize": 42, "color": "#333333", "align": "center", "baseline": "alphabetic"},
 "encoding": {"x": {"datum": 604.5, "type": "quantitative"}, "y": {"datum": 1.535, "type": "quantitative"}}},
{"data": {"values": [{}]}, "mark": {"type": "text", "text": "rd", "font": "Lato", "fontSize": 26, "color": "#333333", "align": "left", "baseline": "alphabetic"},
 "encoding": {"x": {"datum": 611.4, "type": "quantitative"}, "y": {"datum": 1.636, "type": "quantitative"}}},
{"data": {"values": [{}]}, "mark": {"type": "text", "text": "Bilingual", "font": "Lato", "fontSize": 43, "color": "#1f5ee0", "align": "left", "baseline": "alphabetic"},
 "encoding": {"x": {"datum": 665.8, "type": "quantitative"}, "y": {"datum": 2.636, "type": "quantitative"}}},
{"data": {"values": [{}]}, "mark": {"type": "text", "text": "Monolingual", "font": "Lato", "fontSize": 41, "color": "#ff1414", "align": "left", "baseline": "alphabetic"},
 "encoding": {"x": {"datum": 650.5, "type": "quantitative"}, "y": {"datum": 1.85, "type": "quantitative"}}}
]
}
